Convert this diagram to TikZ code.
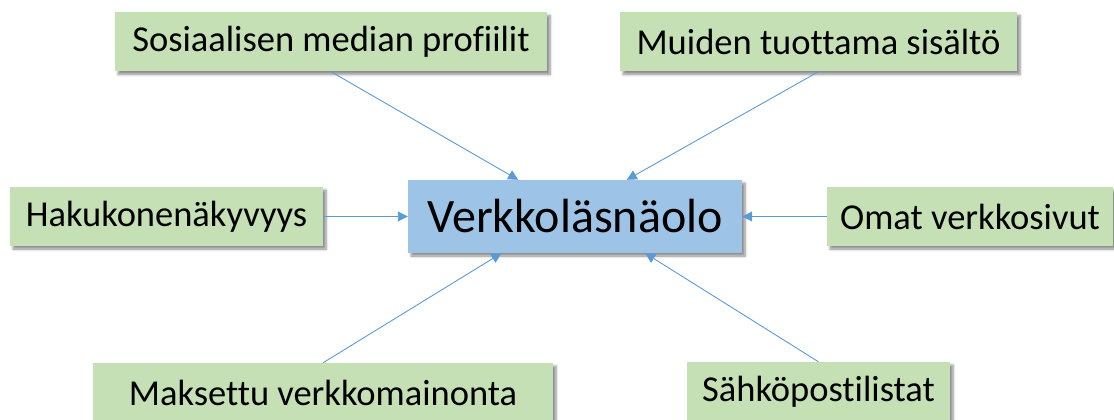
\documentclass[tikz,border=0pt]{standalone}
\usepackage{fontspec}
\setmainfont{Carlito}[Ligatures={NoCommon}]
\usetikzlibrary{arrows.meta,calc,shadows.blur}
\definecolor{leafgreen}{HTML}{C5E0B4}
\definecolor{hubblue}{HTML}{9DC3E6}
\definecolor{linkblue}{HTML}{5B9BD5}
\tikzset{
  x=1pt, y=-1pt,
  boxbase/.style={rectangle, inner sep=0pt, text=black,
    blur shadow={shadow xshift=3pt, shadow yshift=-3pt, shadow blur steps=6, shadow blur radius=2.5pt, shadow opacity=45}},
  leaf/.style={boxbase, fill=leafgreen, minimum height=59pt,
    font=\fontsize{36.5}{40}\selectfont},
  hub/.style={boxbase, fill=hubblue, minimum height=73pt, minimum width=334pt,
    font=\fontsize{48}{54}\selectfont},
  link/.style={draw=linkblue, line width=0.9pt,
    -{Triangle[length=10pt,width=10pt]}}
}
\begin{document}
\begin{tikzpicture}
\useasboundingbox (0,0) rectangle (1114,420);
\node[hub] (c) at (575,216.5) {Verkkoläsnäolo};
\node[leaf, minimum width=432pt] (tl) at (331,42) {Sosiaalisen median profiilit};
\node[leaf, minimum width=397pt] (tr) at (818.5,42) {Muiden tuottama sisältö};
\node[leaf, minimum width=313pt] (l) at (166.5,216.5) {Hakukonenäkyvyys};
\node[leaf, minimum width=286pt] (r) at (970,216.5) {Omat verkkosivut};
\node[leaf, minimum width=460pt] (bl) at (323,392.5) {Maksettu verkkomainonta};
\node[leaf, minimum width=263pt] (br) at (818.5,391.5) {Sähköpostilistat};
\draw[link] (tl.south) -- ($(c.north west)!0.33!(c.north east)$);
\draw[link] (tr.south) -- ($(c.north west)!0.655!(c.north east)$);
\draw[link] (l.east) -- (c.west);
\draw[link] (r.west) -- (c.east);
\draw[link] (bl.north) -- ($(c.south west)!0.28!(c.south east)$);
\draw[link] (br.north) -- ($(c.south west)!0.71!(c.south east)$);
\end{tikzpicture}
\end{document}
